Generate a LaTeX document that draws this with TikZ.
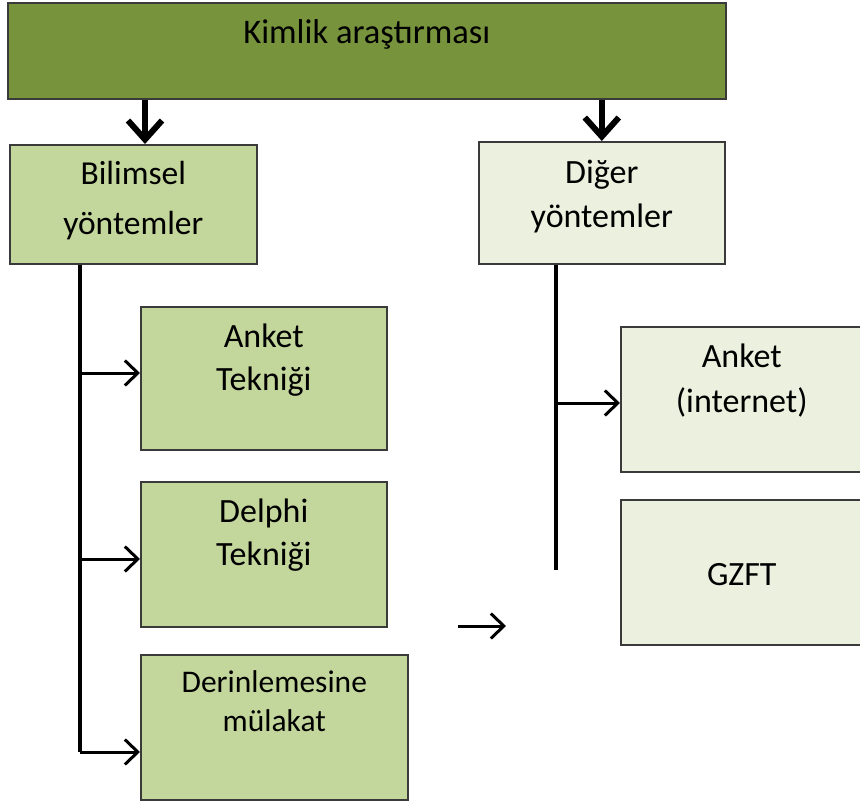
\documentclass[tikz,border=0pt]{standalone}
\usepackage{fontspec}
\setmainfont{Carlito}
\usetikzlibrary{arrows.meta,positioning}
\definecolor{koyuyesil}{HTML}{77933C}
\definecolor{ortayesil}{HTML}{C3D69B}
\definecolor{acikyesil}{HTML}{EBF1DE}
\definecolor{kenar}{HTML}{3A3A3A}
\begin{document}
\begin{tikzpicture}[x=1pt, y=-1pt,
  kutu/.style={draw=kenar, line width=1.6pt, rectangle, anchor=north west, inner sep=0pt},
  yazi/.style={anchor=north, align=center, inner sep=0pt, font=\fontsize{34}{43}\selectfont},
  kalin/.style={line width=6.5pt, -{Straight Barb[length=19pt,width=34pt,line width=6pt]}},
  govde/.style={line width=4.5pt},
  ok/.style={line width=3pt, -{Straight Barb[length=13pt,width=25pt,line width=3pt]}}]

\clip (0,0) rectangle (860,803);

% Ust kutu
\node (kimlik) [kutu, fill=koyuyesil, minimum width=718pt, minimum height=96pt] at (7,2) {};
\node [yazi, font=\fontsize{34.5}{43}\selectfont] at ([yshift=-17pt]kimlik.north) {Kimlik araştırması};

% Iki kol
\node (bil) [kutu, fill=ortayesil, minimum width=247pt, minimum height=119pt] at (9,144) {};
\node [yazi, font=\fontsize{33.5}{50}\selectfont] at ([yshift=-17pt]bil.north) {Bilimsel\\yöntemler};
\node (diger) [kutu, fill=acikyesil, minimum width=246pt, minimum height=122pt] at (478,141) {};
\node [yazi, font=\fontsize{34}{44}\selectfont] at ([yshift=-19pt]diger.north) {Diğer\\yöntemler};

% Ust oklar
\coordinate (sol) at (145,0);
\draw[kalin] (kimlik.south -| sol) -- (bil.north -| sol);
\draw[kalin] (kimlik.south -| diger.north) -- (diger.north);

% Sol kutular
\node (anket) [kutu, fill=ortayesil, minimum width=246pt, minimum height=143pt] at (140,306) {};
\node [yazi, font=\fontsize{34}{43}\selectfont] at ([yshift=-18pt]anket.north) {Anket\\Tekniği};
\node (delphi) [kutu, fill=ortayesil, minimum width=246pt, minimum height=145pt] at (140,481) {};
\node [yazi] at ([yshift=-18pt]delphi.north) {Delphi\\Tekniği};
\node (derin) [kutu, fill=ortayesil, minimum width=267pt, minimum height=145pt] at (140,654) {};
\node [yazi, font=\fontsize{31.5}{39}\selectfont] at ([yshift=-16.5pt]derin.north) {Derinlemesine\\mülakat};

% Sol govde ve oklar
\coordinate (a1) at (80,373);
\coordinate (a2) at (80,559);
\coordinate (a3) at (80,752);
\draw[govde] (bil.south -| a1) -- (a3);
\draw[ok] (a1) -- (a1 -| anket.west);
\draw[ok] (a2) -- (a2 -| delphi.west);
\draw[ok] (a3) -- (a3 -| derin.west);

% Sag kutular
\node (anketnet) [kutu, fill=acikyesil, minimum width=242pt, minimum height=145pt] at (620,326) {};
\node [yazi, font=\fontsize{34}{45}\selectfont] at ([yshift=-18pt]anketnet.north) {Anket\\(internet)};
\node (gzft) [kutu, fill=acikyesil, minimum width=242pt, minimum height=145pt] at (620,499) {};
\node [yazi] at ([yshift=-64pt]gzft.north) {GZFT};

% Sag govde ve ok
\coordinate (b1) at (556,403);
\coordinate (bson) at (556,570);
\draw[govde] (diger.south -| b1) -- (bson);
\draw[ok] (b1) -- (b1 -| anketnet.west);

% Bos ok
\coordinate (s1) at (458,626);
\coordinate (s2) at (506,626);
\draw[ok] (s1) -- (s2);

\end{tikzpicture}
\end{document}
